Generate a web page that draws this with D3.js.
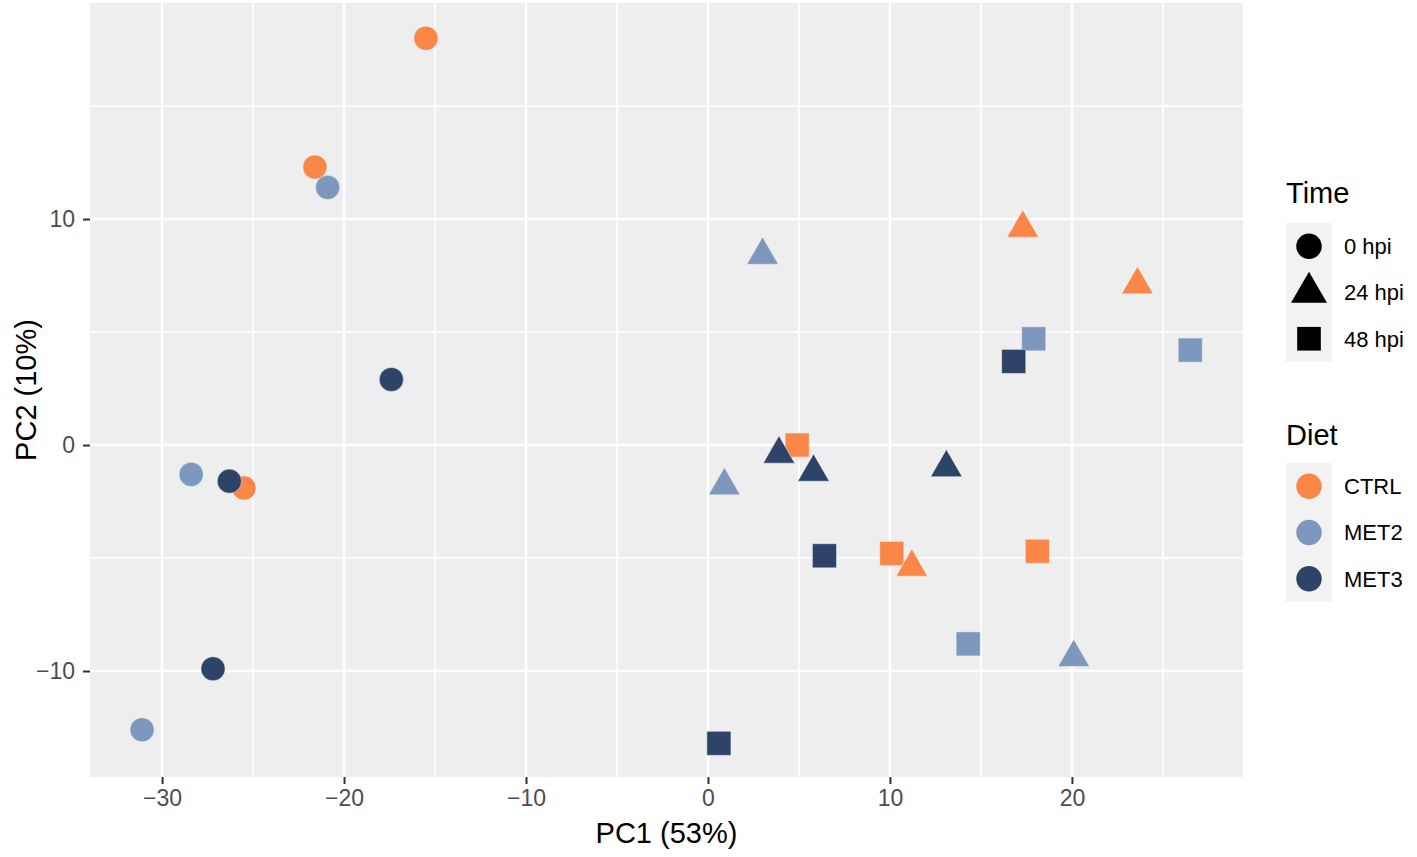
<!DOCTYPE html>
<html>
<head>
<meta charset="utf-8">
<script src="https://cdn.jsdelivr.net/npm/d3@7"></script>
<style>
  body { margin: 0; background: #fff; }
  text { font-family: "Liberation Sans", Arial, sans-serif; }
</style>
</head>
<body>
<script>
// PCA scores
const diet = [
  "CTRL", "CTRL", "CTRL", "CTRL", "CTRL", "CTRL", "CTRL", "CTRL", "CTRL",
  "MET2", "MET2", "MET2", "MET2", "MET2", "MET2", "MET2", "MET2", "MET2",
  "MET3", "MET3", "MET3", "MET3", "MET3", "MET3", "MET3", "MET3", "MET3"
];
const time = [
  "0 hpi", "0 hpi", "0 hpi", "48 hpi", "48 hpi", "48 hpi", "24 hpi", "24 hpi", "24 hpi",
  "0 hpi", "0 hpi", "0 hpi", "24 hpi", "24 hpi", "24 hpi", "48 hpi", "48 hpi", "48 hpi",
  "0 hpi", "0 hpi", "0 hpi", "24 hpi", "24 hpi", "24 hpi", "48 hpi", "48 hpi", "48 hpi"
];
const pc1 = [
  -15.5, -21.6, -25.5, 4.9, 10.1, 18.1, 17.3, 23.6, 11.2,
  -20.9, -28.4, -31.1, 3.0, 0.9, 20.1, 17.9, 26.5, 14.3,
  -17.4, -26.3, -27.2, 3.9, 5.8, 13.1, 16.8, 6.4, 0.6
];
const pc2 = [
  18.0, 12.3, -1.9, 0.0, -4.8, -4.7, 9.6, 7.1, -5.4,
  11.4, -1.3, -12.6, 8.4, -1.8, -9.4, 4.7, 4.2, -8.8,
  2.9, -1.6, -9.9, -0.4, -1.2, -1.0, 3.7, -4.9, -13.2
];

const dietLevels = ["CTRL", "MET2", "MET3"];
const dietColors = ["#fa8748", "#7e98bd", "#2d4468"];
const timeLevels = ["0 hpi", "24 hpi", "48 hpi"];

const xTicks = [-30, -20, -10, 0, 10, 20];
const xMinor = [-25, -15, -5, 5, 15, 25];
const yTicks = [-10, 0, 10];
const yMinor = [-5, 5, 15];

const W = 1417, H = 857;
const panel = { left: 90, right: 1243, top: 3, bottom: 777 };

const svg = d3.select("body").append("svg")
  .attr("width", W)
  .attr("height", H);

const x = d3.scaleLinear().domain([-33.96, 29.4]).range([panel.left, panel.right]);
const y = d3.scaleLinear().domain([-14.69, 19.56]).range([panel.bottom, panel.top]);

const color = d3.scaleOrdinal().domain(dietLevels).range(dietColors);
const shape = d3.scaleOrdinal().domain(timeLevels)
  .range([d3.symbolCircle, d3.symbolTriangle, d3.symbolSquare]);
const symSize = d3.scaleOrdinal().domain(timeLevels).range([460, 430, 580]);

// panel background + grid
svg.append("rect")
  .attr("x", panel.left).attr("y", panel.top)
  .attr("width", panel.right - panel.left)
  .attr("height", panel.bottom - panel.top)
  .attr("fill", "#eeeeee");

const grid = svg.append("g");
grid.selectAll(".vmin").data(xMinor).enter().append("line")
  .attr("x1", d => x(d)).attr("x2", d => x(d))
  .attr("y1", panel.top).attr("y2", panel.bottom)
  .attr("stroke", "#fff").attr("stroke-width", 1.6);
grid.selectAll(".hmin").data(yMinor).enter().append("line")
  .attr("y1", d => y(d)).attr("y2", d => y(d))
  .attr("x1", panel.left).attr("x2", panel.right)
  .attr("stroke", "#fff").attr("stroke-width", 1.6);
grid.selectAll(".vmaj").data(xTicks).enter().append("line")
  .attr("x1", d => x(d)).attr("x2", d => x(d))
  .attr("y1", panel.top).attr("y2", panel.bottom)
  .attr("stroke", "#fff").attr("stroke-width", 2.6);
grid.selectAll(".hmaj").data(yTicks).enter().append("line")
  .attr("y1", d => y(d)).attr("y2", d => y(d))
  .attr("x1", panel.left).attr("x2", panel.right)
  .attr("stroke", "#fff").attr("stroke-width", 2.6);

// axes
const fmt = d => d < 0 ? "\u2212" + Math.abs(d) : String(d);

const xAxis = svg.append("g")
  .attr("transform", `translate(0,${panel.bottom})`)
  .call(d3.axisBottom(x).tickValues(xTicks).tickFormat(fmt).tickSize(7).tickPadding(6));
const yAxis = svg.append("g")
  .attr("transform", `translate(${panel.left},0)`)
  .call(d3.axisLeft(y).tickValues(yTicks).tickFormat(fmt).tickSize(7).tickPadding(8));

[xAxis, yAxis].forEach(a => {
  a.select(".domain").remove();
  a.selectAll(".tick line").attr("stroke", "#333").attr("stroke-width", 2);
  a.selectAll(".tick text")
    .attr("fill", "#4d4d4d")
    .style("font-size", "23px")
    .style("font-family", "'Liberation Sans', Arial, sans-serif");
});

svg.append("text")
  .attr("x", (panel.left + panel.right) / 2)
  .attr("y", 843)
  .attr("text-anchor", "middle")
  .style("font-size", "29px")
  .text("PC1 (53%)");

svg.append("text")
  .attr("transform", `translate(36,${(panel.top + panel.bottom) / 2}) rotate(-90)`)
  .attr("text-anchor", "middle")
  .style("font-size", "29px")
  .text("PC2 (10%)");

// points
const pts = pc1.map((v, i) => ({ pc1: v, pc2: pc2[i], diet: diet[i], time: time[i] }));

svg.append("g").selectAll("path")
  .data(pts)
  .enter()
  .append("path")
  .attr("transform", d => `translate(${x(d.pc1)},${y(d.pc2)})`)
  .attr("d", d => d3.symbol().type(shape(d.time)).size(symSize(d.time))())
  .attr("fill", d => color(d.diet))
  .attr("stroke", "#f4f4f4")
  .attr("stroke-opacity", 0.5)
  .attr("stroke-width", 1);

// legends
const lx = 1286;
const keyW = 46, keyH = 46.3;

function legend(title, titleY, levels, keyTop, fillFn, shapeFn, sizeFn) {
  const g = svg.append("g");
  g.append("text")
    .attr("x", lx).attr("y", titleY)
    .style("font-size", "29px")
    .text(title);
  g.append("rect")
    .attr("x", lx).attr("y", keyTop)
    .attr("width", keyW).attr("height", keyH * levels.length)
    .attr("fill", "#f2f2f2");
  levels.forEach((lv, i) => {
    const cy = keyTop + keyH * (i + 0.5);
    g.append("path")
      .attr("transform", `translate(${lx + keyW / 2},${cy})`)
      .attr("d", d3.symbol().type(shapeFn(lv)).size(sizeFn(lv))())
      .attr("fill", fillFn(lv));
    g.append("text")
      .attr("x", lx + keyW + 12).attr("y", cy)
      .attr("dy", "0.36em")
      .style("font-size", "22px")
      .text(lv);
  });
}

legend("Time", 203, timeLevels, 223, () => "#000", shape,
  lv => lv === "0 hpi" ? 510 : 560);
legend("Diet", 445, dietLevels, 463, color, () => d3.symbolCircle, () => 510);
</script>
</body>
</html>
